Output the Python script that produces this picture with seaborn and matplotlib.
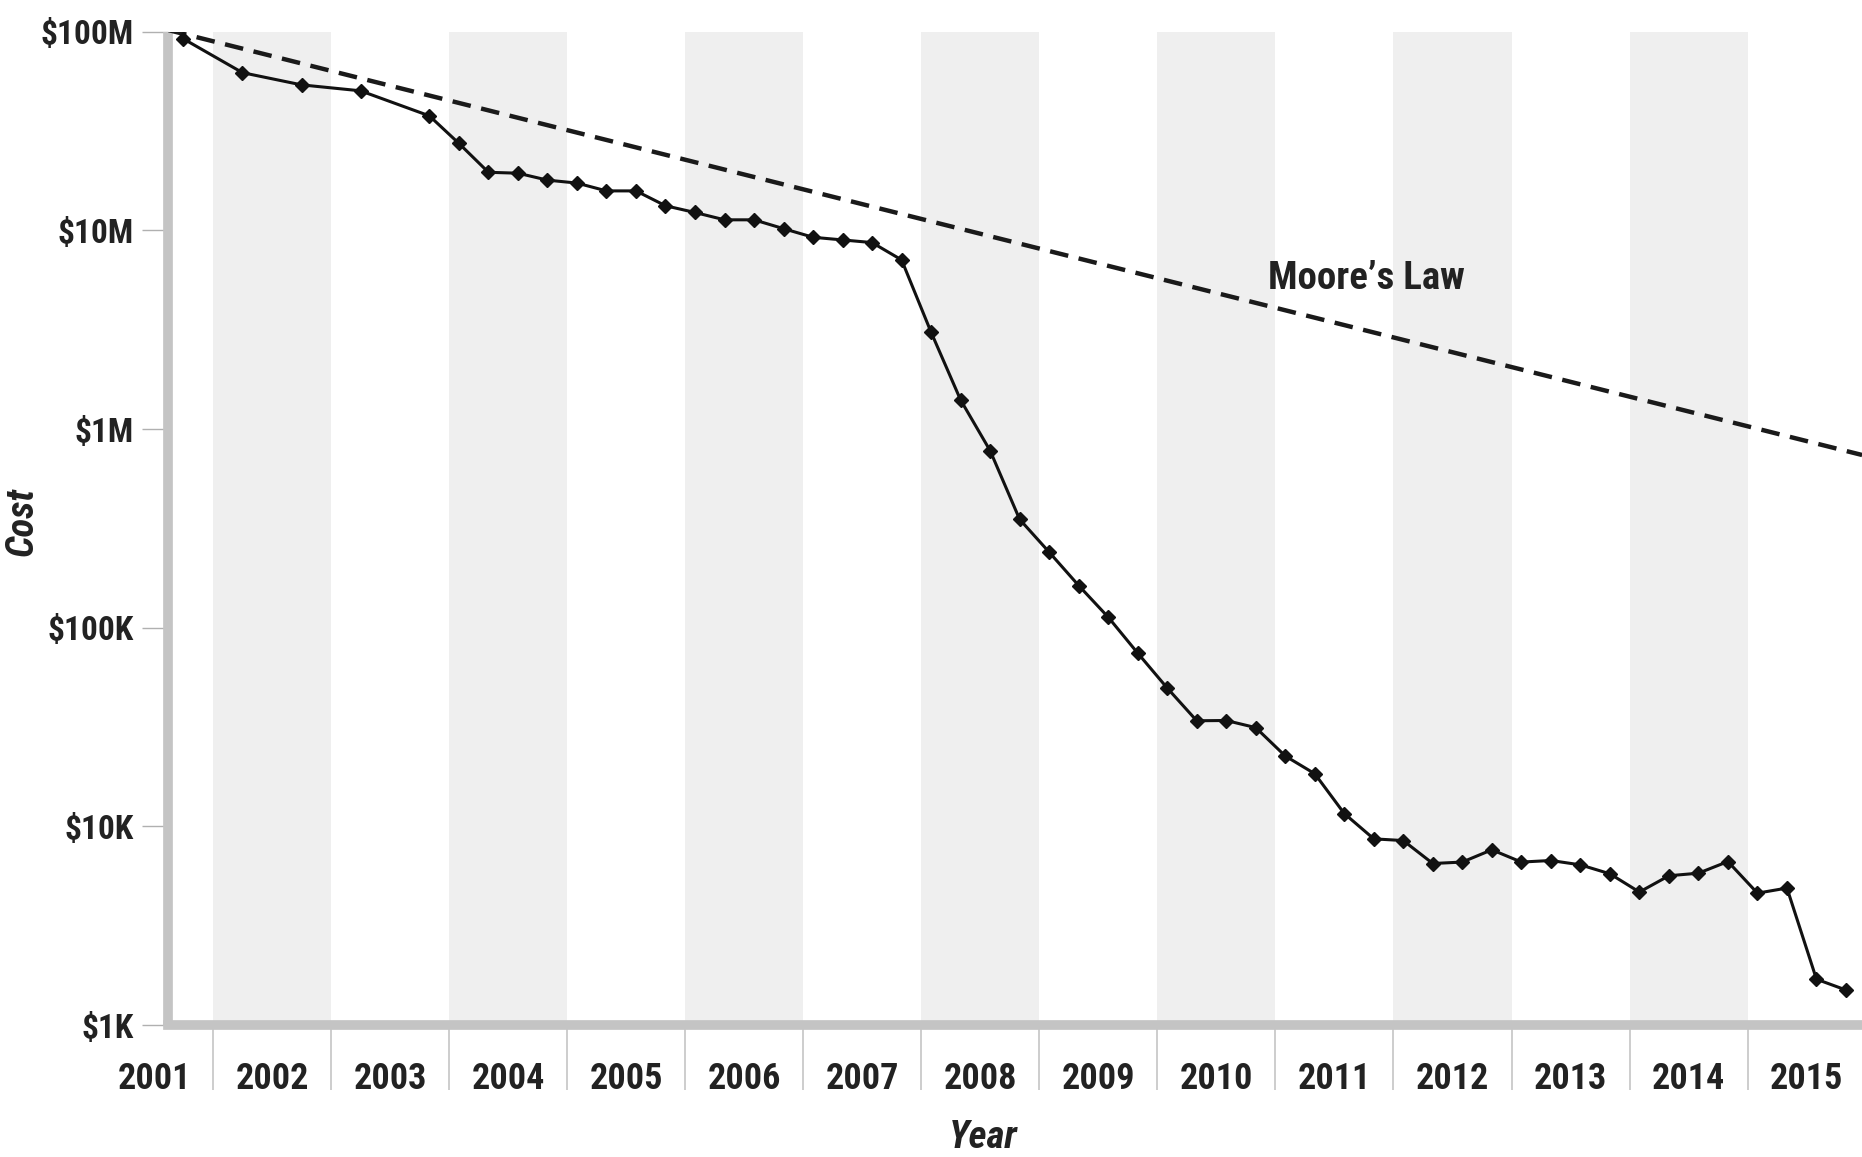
import numpy as np
import pandas as pd
import matplotlib
matplotlib.use("Agg")
import matplotlib.pyplot as plt
from matplotlib import font_manager
from matplotlib.ticker import FixedLocator, FixedFormatter, NullLocator, NullFormatter
import matplotlib.transforms as mtransforms
import seaborn as sns

# Cost of sequencing one human genome (USD), by survey month
months = [
    "2001-09", "2002-03", "2002-09", "2003-03", "2003-10",
    "2004-01", "2004-04", "2004-07", "2004-10",
    "2005-01", "2005-04", "2005-07", "2005-10",
    "2006-01", "2006-04", "2006-07", "2006-10",
    "2007-01", "2007-04", "2007-07", "2007-10",
    "2008-01", "2008-04", "2008-07", "2008-10",
    "2009-01", "2009-04", "2009-07", "2009-10",
    "2010-01", "2010-04", "2010-07", "2010-10",
    "2011-01", "2011-04", "2011-07", "2011-10",
    "2012-01", "2012-04", "2012-07", "2012-10",
    "2013-01", "2013-04", "2013-07", "2013-10",
    "2014-01", "2014-04", "2014-07", "2014-10",
    "2015-01", "2015-04", "2015-07", "2015-10",
]
cost = [
    92.0e6, 62.2e6, 54.0e6, 50.4e6, 37.7e6,
    27.4e6, 19.6e6, 19.4e6, 17.9e6,
    17.3e6, 15.8e6, 15.8e6, 13.3e6,
    12.3e6, 11.3e6, 11.3e6, 10.2e6,
    9.23e6, 8.95e6, 8.68e6, 7.10e6,
    3.07e6, 1.40e6, 778e3, 351e3,
    240e3, 163e3, 113e3, 74.5e3,
    49.7e3, 34.0e3, 34.1e3, 31.4e3,
    22.6e3, 18.4e3, 11.6e3, 8.65e3,
    8.48e3, 6.50e3, 6.61e3, 7.62e3,
    6.61e3, 6.73e3, 6.40e3, 5.77e3,
    4.67e3, 5.64e3, 5.81e3, 6.65e3,
    4.61e3, 4.89e3, 1.70e3, 1.50e3,
]

# Moore's Law reference trend (cost halving roughly every two years)
moore_years = [2001.62, 2015.97]
moore_cost = [1.02e8, 7.4e5]

years = list(range(2001, 2016))
shaded_years = [2002, 2004, 2006, 2008, 2010, 2012, 2014]
cost_ticks = [1e3, 1e4, 1e5, 1e6, 1e7, 1e8]
cost_labels = ["$1K", "$10K", "$100K", "$1M", "$10M", "$100M"]

sns.set_theme(style="white")

# condensed sans for all text
available = {f.name for f in font_manager.fontManager.ttflist}
narrow = None
for cand in ["Liberation Sans Narrow", "Roboto Condensed", "Open Sans Condensed"]:
    if cand in available:
        narrow = cand
        break
if narrow is not None:
    plt.rcParams["font.family"] = [narrow, "DejaVu Sans"]
else:
    plt.rcParams["font.family"] = ["DejaVu Sans"]
    plt.rcParams["font.stretch"] = "condensed"

TEXT = "#222222"
SPINE = "#c4c4c4"
BAND = "#efefef"

df = pd.DataFrame({"month": pd.to_datetime(months), "cost": cost})
df["year"] = df["month"].dt.year + df["month"].dt.month / 12.0

W, H = 1862, 1157
fig = plt.figure(figsize=(W / 100, H / 100), dpi=100)
left_px, bottom_px, top_px = 168, 1025, 31.7
ax = fig.add_axes([left_px / W, 1 - bottom_px / H, 1 - left_px / W, (bottom_px - top_px) / H])
ax.set_facecolor("white")
ax.set_yscale("log")

for y in shaded_years:
    ax.axvspan(y, y + 1, color=BAND, lw=0, zorder=0)

sns.lineplot(x=moore_years, y=moore_cost, ax=ax, color="#1a1a1a", linewidth=3.2,
             linestyle=(0, (4.2, 2.4)), zorder=3)
sns.lineplot(data=df, x="year", y="cost", ax=ax, color="#111111", linewidth=2.2,
             marker="D", markersize=7.5, markeredgecolor="#111111", markeredgewidth=1,
             errorbar=None, zorder=4)

ax.set_xlim(2001.619, 2015.969)
ax.set_ylim(1e3, 1e8)

# spines
for side in ["top", "right"]:
    ax.spines[side].set_visible(False)
for side in ["left", "bottom"]:
    ax.spines[side].set_color(SPINE)
    ax.spines[side].set_linewidth(7)
ax.spines["bottom"].set_capstyle("projecting")
ax.spines["left"].set_capstyle("butt")

# y ticks
ax.yaxis.set_major_locator(FixedLocator(cost_ticks))
ax.yaxis.set_major_formatter(FixedFormatter(cost_labels))
ax.yaxis.set_minor_locator(NullLocator())
ax.tick_params(axis="y", which="major", direction="out", length=18.5, width=1.0,
               color="#b0b0b0", pad=6, labelsize=24, labelcolor=TEXT, left=True)
for lbl in ax.get_yticklabels():
    lbl.set_fontweight("bold")

# x ticks: long separators at year boundaries, labels centred in each year
ax.xaxis.set_major_locator(FixedLocator(years[1:]))
ax.xaxis.set_major_formatter(NullFormatter())
ax.xaxis.set_minor_locator(NullLocator())
ax.tick_params(axis="x", which="major", direction="out", length=47, width=1.1,
               color="#c0c0c0", bottom=True)
trans = mtransforms.blended_transform_factory(ax.transData, ax.transAxes)
for yr in years:
    ax.text(yr + 0.5, -0.0539, str(yr), transform=trans, ha="center", va="center",
            fontsize=26, fontweight="bold", color=TEXT, clip_on=False)

ax.text(2010.94, 5.75e6, "Moore\u2019s Law", ha="left", va="center",
        fontsize=28, fontweight="bold", color=TEXT, zorder=5)

ax.set_xlabel("Year", fontsize=28, fontweight="bold", fontstyle="italic", color=TEXT)
ax.xaxis.set_label_coords(0.481, -0.1128)
ax.xaxis.label.set_va("center")
ax.set_ylabel("Cost", fontsize=28, fontweight="bold", fontstyle="italic", color=TEXT)
ax.yaxis.set_label_coords(-0.0862, 0.507)
ax.yaxis.label.set_va("center")
ax.grid(False)

fig.savefig("out.png", dpi=100, facecolor="white")
